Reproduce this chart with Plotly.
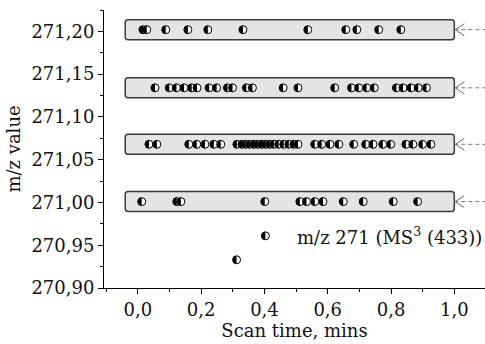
import plotly.graph_objects as go

# ---- data ----
levels = [271.202, 271.134, 271.068, 271.001]
row1_x = [0.016, 0.028, 0.088, 0.158, 0.221, 0.332, 0.537, 0.657, 0.692, 0.761, 0.831]
row2_x = [0.054, 0.099, 0.122, 0.146, 0.170, 0.187, 0.225, 0.249, 0.283, 0.299, 0.343,
          0.362, 0.459, 0.506, 0.622, 0.675, 0.698, 0.723, 0.747, 0.817, 0.838, 0.863,
          0.886, 0.912]
row3_x = [0.035, 0.060, 0.161, 0.186, 0.212, 0.240, 0.262, 0.313, 0.329, 0.341, 0.354,
          0.367, 0.379, 0.392, 0.404, 0.417, 0.430, 0.445, 0.461, 0.477, 0.493, 0.506,
          0.559, 0.581, 0.607, 0.635, 0.682, 0.720, 0.743, 0.774, 0.799, 0.847, 0.869,
          0.900, 0.926]
row4_x = [0.012, 0.123, 0.136, 0.401, 0.512, 0.533, 0.559, 0.585, 0.649, 0.712, 0.807, 0.884]
extra_x = [0.312]
extra_y = [270.933]

legend_x = 0.403
legend_y = 270.961
legend_label = "m/z 271 (MS<sup>3</sup> (433))"

x_tickvals = [0.0, 0.2, 0.4, 0.6, 0.8, 1.0]
x_ticktext = ["0,0", "0,2", "0,4", "0,6", "0,8", "1,0"]
y_tickvals = [270.90, 270.95, 271.00, 271.05, 271.10, 271.15, 271.20]
y_ticktext = ["270,90", "270,95", "271,00", "271,05", "271,10", "271,15", "271,20"]

x_range = [-0.107, 1.097]
y_range = [270.90, 271.225]
bar_x = [-0.04, 1.0]
bar_half = 0.0117

rows = [row1_x, row2_x, row3_x, row4_x]
xs, ys = [], []
for lv, rx in zip(levels, rows):
    xs += rx
    ys += [lv] * len(rx)
xs += extra_x
ys += extra_y

FONT = "DejaVu Serif"
FS = 18
TXT = "#111111"

fig = go.Figure()
# white circles with black outline (right half shows white)
fig.add_trace(go.Scatter(
    x=xs, y=ys, mode="markers",
    marker=dict(symbol="circle", size=8, color="white", line=dict(color="black", width=1)),
    showlegend=False, hoverinfo="x+y"))
# legend marker
fig.add_trace(go.Scatter(
    x=[legend_x], y=[legend_y], mode="markers",
    marker=dict(symbol="circle", size=8, color="white", line=dict(color="black", width=1)),
    showlegend=False, hoverinfo="skip"))

k = 2.21
half_path = f"M 0,4 C {-k},4 -4,{k} -4,0 C -4,{-k} {-k},-4 0,-4 Z"

shapes = []
rx_, ry_ = 0.009, 0.0035
for lv in levels:
    x0, x1 = bar_x
    y0, y1 = lv - bar_half, lv + bar_half
    path = (f"M {x0+rx_},{y0} L {x1-rx_},{y0} Q {x1},{y0} {x1},{y0+ry_} "
            f"L {x1},{y1-ry_} Q {x1},{y1} {x1-rx_},{y1} L {x0+rx_},{y1} "
            f"Q {x0},{y1} {x0},{y1-ry_} L {x0},{y0+ry_} Q {x0},{y0} {x0+rx_},{y0} Z")
    shapes.append(dict(type="path", path=path, xref="x", yref="y",
                       fillcolor="#e4e4e4", line=dict(color="#3a3a3a", width=1.5),
                       layer="below"))
    shapes.append(dict(type="line", xref="x", yref="y", x0=x1, x1=x_range[1],
                       y0=lv, y1=lv, layer="below",
                       line=dict(color="#777777", width=1, dash="4px,3px")))
    shapes.append(dict(type="path", xref="x", yref="y", xsizemode="pixel",
                       ysizemode="pixel", xanchor=x1, yanchor=lv,
                       path="M 10,6 L 1,0 L 10,-6", line=dict(color="#666666", width=1)))

# black left halves of the markers, anchored at each data point
for px, py in list(zip(xs, ys)) + [(legend_x, legend_y)]:
    shapes.append(dict(type="path", xref="x", yref="y", xsizemode="pixel",
                       ysizemode="pixel", xanchor=px, yanchor=py, path=half_path,
                       fillcolor="black", line=dict(width=0), layer="above"))
fig.update_layout(shapes=shapes)

fig.add_annotation(x=legend_x + 0.095, y=legend_y, xref="x", yref="y", text=legend_label,
                   showarrow=False, xanchor="left",
                   font=dict(family=FONT, size=FS, color=TXT))

axis_common = dict(showline=True, linecolor="black", linewidth=1, ticks="outside",
                   tickcolor="black", ticklen=5, showgrid=False, zeroline=False,
                   tickfont=dict(family=FONT, size=FS, color=TXT), mirror=False)
fig.update_xaxes(range=x_range, tickmode="array", tickvals=x_tickvals, ticktext=x_ticktext,
                 minor=dict(tick0=0, dtick=0.1, ticks="outside", ticklen=3, tickcolor="black"),
                 title=dict(text="Scan time, mins", font=dict(family=FONT, size=FS, color=TXT),
                            standoff=4),
                 **axis_common)
fig.update_yaxes(range=y_range, tickmode="array", tickvals=y_tickvals, ticktext=y_ticktext,
                 minor=dict(tick0=270.9, dtick=0.025, ticks="outside", ticklen=3, tickcolor="black"),
                 title=dict(text="m/z value", font=dict(family=FONT, size=FS, color=TXT),
                            standoff=6),
                 **axis_common)

fig.update_layout(width=485, height=344, margin=dict(l=104, r=0, t=10, b=56),
                  plot_bgcolor="white", paper_bgcolor="white", showlegend=False)

fig.write_html("out.html")
